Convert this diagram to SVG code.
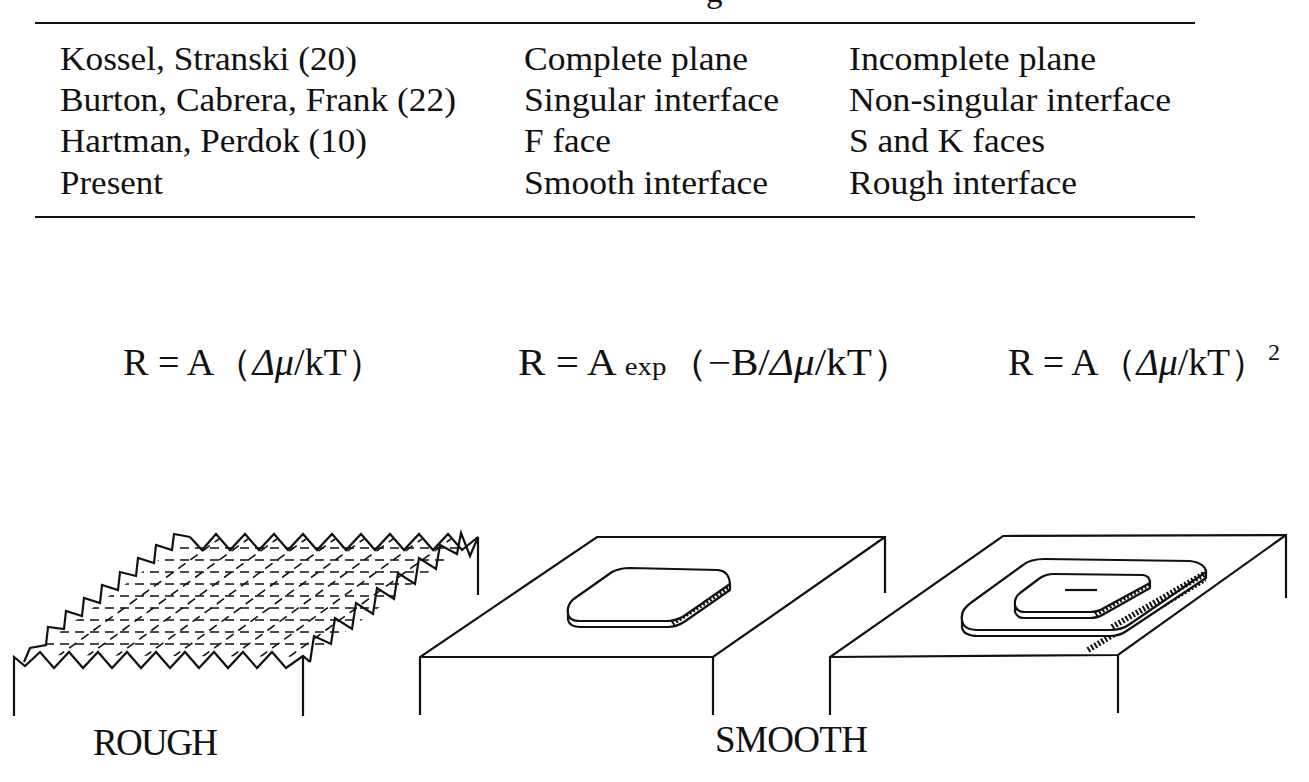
<svg xmlns="http://www.w3.org/2000/svg" width="1309" height="782" viewBox="0 0 1309 782">
<style>
text{font-family:"Liberation Serif","DejaVu Serif",serif;fill:#111}
.t{font-size:33px}
.eq{font-size:37px}
.l{stroke:#111;stroke-width:2.2;fill:none;stroke-linejoin:miter}
.d{stroke:#111;stroke-width:1.6;fill:none;stroke-dasharray:9 6}
.p{stroke:#111;stroke-width:2.2;fill:#fff;stroke-linejoin:round}
.h{stroke:#111;stroke-width:6;fill:none;stroke-dasharray:2 2}
</style>
<defs><clipPath id="cp"><polygon points="28,655 190,537 478,537 310,657"/></clipPath></defs>
<rect width="1309" height="782" fill="#fff"/>
<g id="table">
<text x="706" y="2" class="t">g</text>
<line x1="35" y1="23" x2="1195" y2="23" stroke="#111" stroke-width="2"/>
<line x1="35" y1="217" x2="1195" y2="217" stroke="#111" stroke-width="2"/>
<text class="t" x="60" y="70" textLength="297" lengthAdjust="spacingAndGlyphs">Kossel, Stranski (20)</text>
<text class="t" x="524" y="70" textLength="224" lengthAdjust="spacingAndGlyphs">Complete plane</text>
<text class="t" x="849" y="70" textLength="247" lengthAdjust="spacingAndGlyphs">Incomplete plane</text>
<text class="t" x="60" y="111" textLength="396" lengthAdjust="spacingAndGlyphs">Burton, Cabrera, Frank (22)</text>
<text class="t" x="524" y="111" textLength="255" lengthAdjust="spacingAndGlyphs">Singular interface</text>
<text class="t" x="849" y="111" textLength="322" lengthAdjust="spacingAndGlyphs">Non-singular interface</text>
<text class="t" x="60" y="152" textLength="307" lengthAdjust="spacingAndGlyphs">Hartman, Perdok (10)</text>
<text class="t" x="524" y="152" textLength="87" lengthAdjust="spacingAndGlyphs">F face</text>
<text class="t" x="849" y="152" textLength="196" lengthAdjust="spacingAndGlyphs">S and K faces</text>
<text class="t" x="60" y="194" textLength="103" lengthAdjust="spacingAndGlyphs">Present</text>
<text class="t" x="524" y="194" textLength="244" lengthAdjust="spacingAndGlyphs">Smooth interface</text>
<text class="t" x="849" y="194" textLength="228" lengthAdjust="spacingAndGlyphs">Rough interface</text>
</g>
<g id="equations">
<text class="eq" x="123" y="375" textLength="262" lengthAdjust="spacingAndGlyphs">R = A（<tspan font-style="italic">Δμ</tspan>/kT）</text>
<text class="eq" x="518" y="375" textLength="395" lengthAdjust="spacingAndGlyphs">R = A <tspan font-size="26">exp</tspan>（−B/<tspan font-style="italic">Δμ</tspan>/kT）</text>
<text class="eq" x="1008" y="375" textLength="260" lengthAdjust="spacingAndGlyphs">R = A（<tspan font-style="italic">Δμ</tspan>/kT）</text>
<text x="1268" y="360" font-size="24">2</text>
</g>
<g id="rough">
<g clip-path="url(#cp)">
<path class="d" d="M0,548H500M0,560H500M0,572H500M0,584H500M0,596H500M0,608H500M0,620H500M0,632H500M0,644H500"/>
<path class="d" d="M57,657l162,-118M86,657l162,-118M115,657l162,-118M144,657l162,-118M173,657l162,-118M202,657l162,-118M231,657l162,-118M260,657l162,-118M289,657l162,-118M318,657l162,-118"/>
</g>
<polyline class="l" points="14,716 14,657 25,666 40,652 54,668 69,652 83,668 98,652 112,668 127,652 141,668 156,652 170,668 185,652 199,668 214,652 228,668 243,652 257,668 272,652 286,668 303,656 310,662"/>
<polyline class="l" points="303,656 303,716"/>
<polyline class="l" points="24,662 30,648 46,645 48,627 64,629 66,611 82,616 84,598 100,603 102,585 118,590 120,572 136,576 138,558 154,563 156,545 172,550 174,534 190,537"/>
<polyline class="l" points="190,537 202,550 216,534 230,550 245,534 259,550 274,534 288,550 303,534 317,550 332,534 346,550 361,534 375,550 390,534 404,550 419,534 433,550 448,534 462,550 478,537"/>
<polyline class="l" points="310,662 314,636 331,644 335,618 352,629 356,603 373,614 377,588 394,599 398,573 415,584 419,558 436,569 440,545 457,554 461,533 470,556 478,537 478,595"/>
</g>
<g id="smooth1">
<polyline class="l" points="420,715 420,657 597,537 885,537 885,593"/>
<polyline class="l" points="420,657 713,657 885,537"/>
<line class="l" x1="713" y1="657" x2="713" y2="715"/>
<path class="p" d="M568,614 L568,620 Q570,627 580,627 L668,627 Q676,627 684,622 L730,590 L730,584 Z"/>
<path class="h" d="M672,623 L728,587"/>
<path class="p" d="M568,614 Q566,603 578,596 L612,572 Q620,568 630,568 L718,570 Q729,571 730,584 L684,616 Q676,621 668,621 L580,621 Q569,621 568,614 Z"/>
</g>
<g id="smooth2">
<polyline class="l" points="830,715 830,657 1003,536 1286,535 1286,598"/>
<polyline class="l" points="830,657 1118,655 1286,535"/>
<line class="l" x1="1118" y1="655" x2="1118" y2="713"/>
<path class="h" d="M1088,650 L1205,579"/>
<path class="p" d="M962,620 L962,628 Q964,636 978,636 L1110,636 Q1120,636 1128,630 L1206,578 L1206,570 Z"/>
<path class="p" d="M962,620 Q960,610 972,602 L1023,565 Q1030,559 1045,559 L1190,561 Q1205,563 1206,572 L1130,624 Q1122,630 1110,630 L978,630 Q963,630 962,620 Z"/>
<path class="h" d="M1112,627 L1204,574"/>
<path class="p" d="M1015,605 L1015,612 Q1017,618 1025,618 L1090,618 Q1098,618 1104,614 L1150,588 L1150,581 Z"/>
<path class="h" d="M1095,614 L1148,584"/>
<path class="p" d="M1015,605 Q1014,598 1020,593 L1040,578 Q1046,574 1054,574 L1143,575 Q1150,576 1150,583 L1104,608 Q1098,612 1090,612 L1025,612 Q1016,612 1015,605 Z"/>
<path class="l" d="M1065,590 L1097,590"/>
</g>
<g id="labels">
<text class="eq" x="93" y="755" textLength="125">ROUGH</text>
<text class="eq" x="715" y="752" textLength="153">SMOOTH</text>
</g>
</svg>
